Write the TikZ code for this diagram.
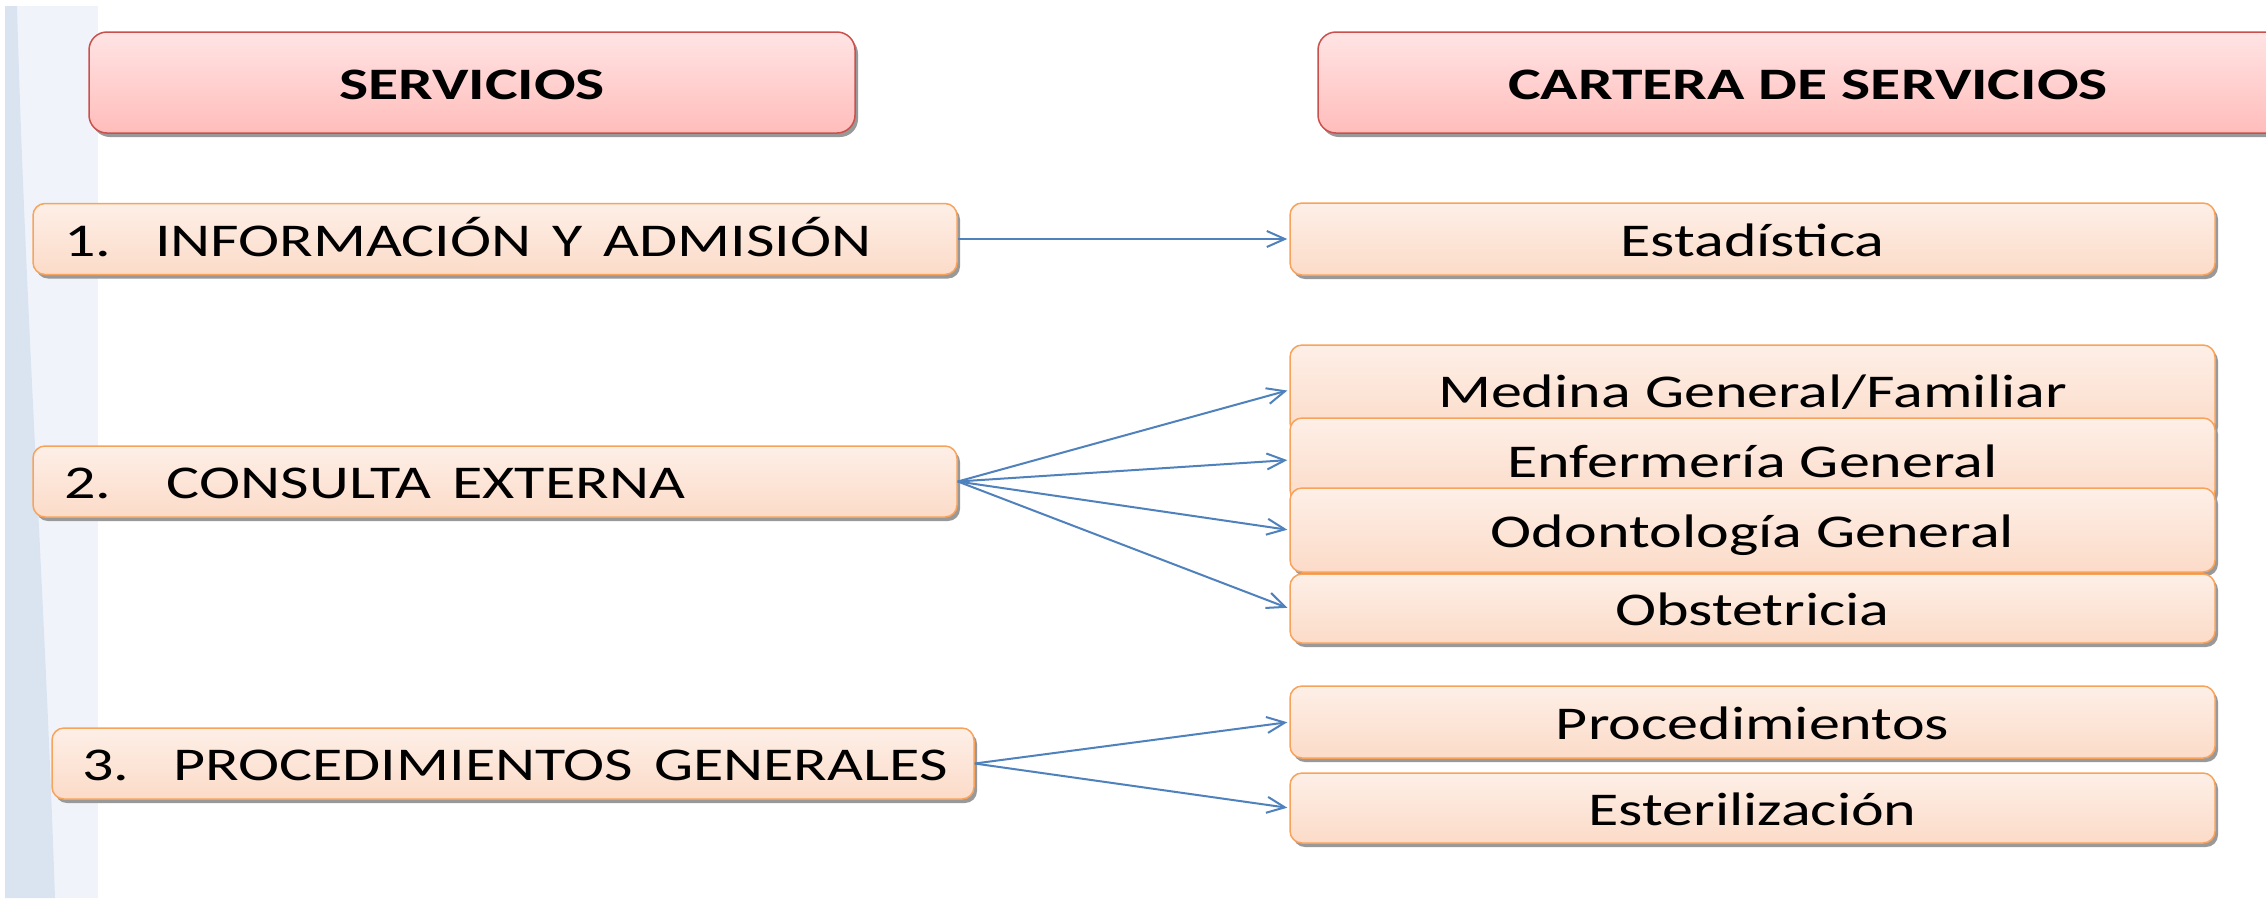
\documentclass[tikz,border=0pt]{standalone}
\usepackage{fontspec}
\setmainfont{Carlito}
\usepackage{graphicx}
\usetikzlibrary{arrows.meta,shadows}
\definecolor{boxline}{HTML}{F7A35C}
\definecolor{boxtop}{HTML}{FDEFE7}
\definecolor{boxbot}{HTML}{FCDBC8}
\definecolor{hdline}{HTML}{C9504D}
\definecolor{hdtop}{HTML}{FFE4E4}
\definecolor{hdbot}{HTML}{FFBDBB}
\definecolor{arrowblue}{HTML}{4F81BD}
\definecolor{stripeA}{HTML}{F0F4FA}
\definecolor{stripeB}{HTML}{DAE4F0}
\newcommand{\wtxt}[1]{\scalebox{1.32}[1]{#1}}
\newcommand{\wbold}[1]{\scalebox{1.37}[1]{\bfseries #1}}
\begin{document}
\begin{tikzpicture}[x=1pt,y=-1pt,
  shadowed/.style={drop shadow={shadow xshift=3pt,shadow yshift=-4pt,fill=black!40,opacity=1}},
  hdbox/.style={shadowed, draw=hdline, line width=1.5pt, rounded corners=18pt, top color=hdtop, bottom color=hdbot, minimum height=101pt, text height=34pt, text depth=0pt, inner sep=0pt, font=\fontsize{45}{50}\selectfont},
  cbox/.style={shadowed, draw=boxline, line width=1.5pt, rounded corners=12pt, top color=boxtop, bottom color=boxbot, text height=34pt, text depth=0pt, inner sep=0pt, font=\fontsize{47}{52}\selectfont},
  svcbox/.style={cbox, minimum height=71pt, text width=#1, align=left},
  catbox/.style={cbox, minimum width=925pt},
  link/.style={draw=arrowblue, line width=2pt, -{Straight Barb[length=18pt,width=16pt]}, shorten >=2pt}
]
\useasboundingbox (0,0) rectangle (2266,898);
\fill[white] (0,0) rectangle (2266,898);
\fill[stripeA] (5,6) rectangle (98,898);
\fill[stripeB] (5,6) -- (17,6) .. controls (25,300) and (45,600) .. (55,898) -- (5,898) -- cycle;

\node[hdbox, minimum width=766pt] (h1) at (472,82.5) {\wbold{SERVICIOS}};
\node[hdbox, minimum width=980pt] (h2) at (1808,82.5) {\wbold{CARTERA DE SERVICIOS}};

\node[svcbox=924pt] (s1) at (495,239) {\hspace*{31pt}\makebox[91pt][l]{\wtxt{1.}}\wtxt{INFORMACIÓN Y ADMISIÓN}};
\node[svcbox=924pt] (s2) at (495,481.5) {\hspace*{31pt}\makebox[103pt][l]{\wtxt{2.}}\wtxt{CONSULTA EXTERNA}};
\node[svcbox=922pt] (s3) at (513,763.5) {\hspace*{30pt}\makebox[91pt][l]{\wtxt{3.}}\wtxt{PROCEDIMIENTOS GENERALES}};

\node[catbox, minimum height=72pt] (c1) at (1752.5,239) {\wtxt{Estadística}};
\node[catbox, minimum height=90pt] (c2) at (1752.5,390) {\wtxt{Medina General/Familiar}};
\node[catbox, minimum height=84pt] (c3) at (1752.5,460) {\wtxt{Enfermería General}};
\node[catbox, minimum height=84pt] (c4) at (1752.5,530) {\wtxt{Odontología General}};
\node[catbox, minimum height=69pt] (c5) at (1752.5,608.5) {\wtxt{Obstetricia}};
\node[catbox, minimum height=72pt] (c6) at (1752.5,722) {\wtxt{Procedimientos}};
\node[catbox, minimum height=70pt] (c7) at (1752.5,808) {\wtxt{Esterilización}};

\draw[link] (s1.east) -- (c1.west);
\draw[link] (s2.east) -- (c2.west);
\draw[link] (s2.east) -- (c3.west);
\draw[link] (s2.east) -- (c4.west);
\draw[link] (s2.east) -- (c5.west);
\draw[link] (s3.east) -- (c6.west);
\draw[link] (s3.east) -- (c7.west);
\end{tikzpicture}
\end{document}
